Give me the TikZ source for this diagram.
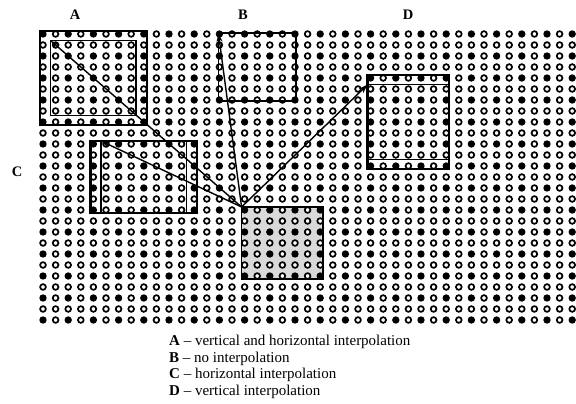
\documentclass[tikz,border=0pt]{standalone}
\usepackage{fontspec}
\setmainfont{Liberation Serif}
\usetikzlibrary{arrows.meta}

\begin{document}
\begin{tikzpicture}[x=1pt, y=-1pt,
  open dot/.style={draw=black, fill=white, line width=1.7pt},
  frame/.style={draw, line width=2.4pt},
  rim/.style={draw, line width=1.5pt},
  arrow/.style={-{Stealth[length=9pt,width=6pt]}, line width=1.4pt},
  letter/.style={font=\fontsize{14.5}{16}\selectfont\bfseries, inner sep=0pt},
  legend/.style={font=\fontsize{15}{16}\selectfont, anchor=base west, inner sep=0pt}
]
  \useasboundingbox (0,0) rectangle (576,404);

  % shaded target block
  \fill[gray!30] (241.6,207) rectangle (323.2,279);

  % sensor grid
  \foreach \i in {0,...,42}
    \foreach \j in {0,...,26}{
      \pgfmathtruncatemacro\odd{mod(\i,2)+mod(\j,2)}
      \ifnum\odd=0
        \fill ({43+12.6*\i},{34+11*\j}) circle[radius=3.7pt];
      \else
        \draw[open dot] ({43+12.6*\i},{34+11*\j}) circle[radius=2.85pt];
      \fi
    }

  % corners
  \coordinate (ctr) at (241.6,207);
  \coordinate (aIn) at (50.6,40.6);
  \coordinate (bIn) at (218.4,33);
  \coordinate (cIn) at (101,141);
  \coordinate (dIn) at (367.6,84.6);

  % A
  \draw[frame] (40,31) rectangle (146.8,125);
  \draw[rim] (aIn) rectangle (136.2,115.4);
  % B
  \draw[rim] (bIn) rectangle (296,101);
  % C
  \draw[frame] (90.4,141) rectangle (197.2,213);
  \draw[rim] (cIn) -- (101,213);
  \draw[rim] (186.6,141) -- (186.6,213);
  % D
  \draw[frame] (367.6,75) rectangle (449.2,169);
  \draw[rim] (dIn) -- (449.2,84.6);
  \draw[rim] (367.6,159.4) -- (449.2,159.4);
  % target
  \draw[rim] (ctr) rectangle (323.2,279);

  \foreach \t in {aIn,bIn,cIn,dIn} \draw[arrow] (ctr) -- (\t);

  \node[letter] (labA) at (75,15) {A};
  \node[letter] (labB) at (243,15) {B};
  \node[letter] (labD) at (408,15) {D};
  \node[letter] (labC) at (17,172) {C};

  \node[legend] (legA) at (169,345.5) {\textbf{A} -- vertical and horizontal interpolation};
  \node[legend] (legB) at (169,362) {\textbf{B} -- no interpolation};
  \node[legend] (legC) at (169,378.5) {\textbf{C} -- horizontal interpolation};
  \node[legend] (legD) at (169,395) {\textbf{D} -- vertical interpolation};
\end{tikzpicture}
\end{document}
